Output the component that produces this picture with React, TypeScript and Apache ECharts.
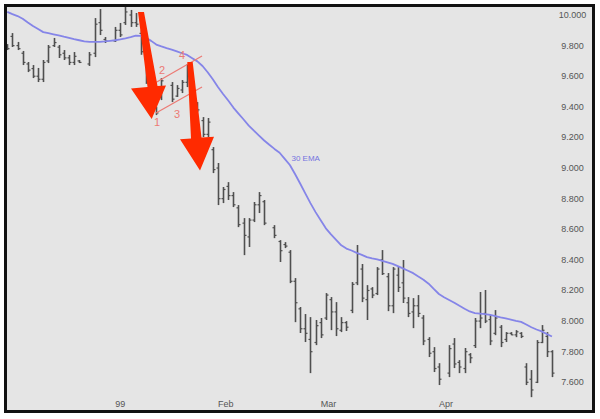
import React, { useEffect, useRef } from 'react';
import * as echarts from 'echarts';

// Trading-day slots (weekdays) shown on the category axis
const START_DATE = '1998-12-04';
const END_DATE = '1999-05-03';

// Month tick labels: slot date -> text
const monthLabels: Record<string, string> = {
  '1999-01-04': '99',
  '1999-02-01': 'Feb',
  '1999-03-01': 'Mar',
  '1999-04-01': 'Apr',
};

// Price axis
const yMin = 7.6;
const yMax = 10.0;
const yStep = 0.2;

// OHLC values per slot (null = no trading / holiday)
const highs: (number | null)[] = [
  9.810, 9.882, 9.824, 9.765, 9.693, 9.673, 9.654, 9.706, 9.804, 9.850,
  9.804, 9.771, 9.739, 9.758, 9.706, null, 9.758, 9.980, 10.039, 9.856,
  null, 9.922, 9.948, 10.052, 10.033, 10.013, 9.90, 9.76, 9.58, 9.401,
  9.588, null, 9.562, 9.542, 9.575, 9.680, 9.60, 9.431, 9.333, 9.327,
  9.137, 9.033, 8.876, 8.908, 8.843, 8.758, 8.673, 8.673, 8.778, 8.843,
  8.791, null, 8.627, 8.529, 8.516, 8.464, 8.281, 8.092, 8.046, 8.026,
  8.007, 8.020, 8.183, 8.157, 8.124, 8.026, 8.000, 8.255, 8.497, 8.373,
  8.235, 8.222, 8.353, 8.464, 8.314, 8.353, 8.353, 8.399, 8.157, 8.150,
  8.170, 8.039, 7.895, 7.830, 7.725, null, 7.843, 7.889, 7.745, 7.824,
  7.791, 8.020, 8.190, 8.203, 8.039, 8.072, 7.974, 7.928, 7.928, 7.941,
  7.928, 7.725, 7.680, 7.876, 7.974, 7.928, 7.810,
];
const lows: (number | null)[] = [
  9.771, 9.791, 9.771, 9.673, 9.627, 9.588, 9.562, 9.562, 9.686, 9.791,
  9.719, 9.706, 9.673, 9.673, 9.686, null, 9.667, 9.725, 9.869, 9.817,
  null, 9.824, 9.856, 9.935, 9.922, 9.922, 9.74, 9.55, 9.40, 9.346,
  9.444, null, 9.431, 9.464, 9.490, 9.529, 9.45, 9.366, 9.203, 9.203,
  8.967, 8.758, 8.771, 8.791, 8.745, 8.614, 8.431, 8.484, 8.647, 8.706,
  8.627, null, 8.542, 8.386, 8.477, 8.248, 7.993, 7.922, 7.863, 7.660,
  7.843, 7.889, 8.007, 7.941, 7.902, 7.928, 7.935, 8.052, 8.235, 8.124,
  8.007, 8.150, 8.170, 8.301, 8.065, 8.052, 8.190, 8.118, 8.026, 7.954,
  8.026, 7.843, 7.765, 7.667, 7.582, null, 7.634, 7.693, 7.660, 7.660,
  7.725, 7.824, 7.954, 7.987, 7.843, 7.908, 7.830, 7.863, 7.908, 7.895,
  7.889, 7.582, 7.503, 7.595, 7.856, 7.765, 7.634,
];
const opens: (number | null)[] = [
  9.80, 9.86, 9.80, 9.75, 9.68, 9.65, 9.60, 9.58, 9.70, 9.80,
  9.79, 9.75, 9.72, 9.69, 9.70, null, 9.68, 9.75, 9.95, 9.84,
  null, 9.83, 9.90, 9.95, 10.00, 9.95, 9.88, 9.74, 9.56, 9.39,
  9.46, null, 9.54, 9.47, 9.51, 9.56, 9.58, 9.42, 9.31, 9.22,
  9.12, 9.00, 8.80, 8.88, 8.82, 8.74, 8.64, 8.55, 8.66, 8.76,
  8.78, null, 8.61, 8.52, 8.50, 8.45, 8.26, 8.08, 7.95, 7.88,
  7.86, 7.99, 8.02, 8.14, 8.06, 7.94, 7.99, 8.07, 8.25, 8.34,
  8.14, 8.21, 8.18, 8.40, 8.29, 8.10, 8.30, 8.25, 8.12, 8.06,
  8.10, 8.02, 7.88, 7.80, 7.70, null, 7.66, 7.85, 7.73, 7.69,
  7.78, 7.84, 8.00, 8.05, 8.01, 7.92, 7.96, 7.88, 7.92, 7.91,
  7.92, 7.70, 7.62, 7.60, 7.86, 7.90, 7.80,
];
const closes: (number | null)[] = [
  9.78, 9.80, 9.78, 9.69, 9.64, 9.60, 9.58, 9.69, 9.79, 9.82,
  9.74, 9.72, 9.69, 9.73, 9.69, null, 9.74, 9.94, 9.90, 9.83,
  null, 9.90, 9.87, 10.02, 9.95, 9.94, 9.76, 9.57, 9.42, 9.36,
  9.57, null, 9.45, 9.52, 9.56, 9.60, 9.46, 9.38, 9.22, 9.30,
  8.99, 8.80, 8.86, 8.82, 8.76, 8.63, 8.56, 8.66, 8.76, 8.82,
  8.64, null, 8.56, 8.46, 8.49, 8.26, 8.12, 7.95, 7.92, 7.80,
  7.97, 7.91, 8.17, 8.06, 7.95, 7.99, 7.96, 8.24, 8.44, 8.15,
  8.20, 8.17, 8.34, 8.31, 8.10, 8.34, 8.22, 8.15, 8.05, 8.10,
  8.05, 7.87, 7.79, 7.69, 7.62, null, 7.82, 7.72, 7.70, 7.80,
  7.76, 8.00, 8.02, 8.00, 7.87, 8.02, 7.86, 7.92, 7.91, 7.93,
  7.90, 7.60, 7.55, 7.86, 7.94, 7.80, 7.66,
];

// 30-day EMA
const ema30: number[] = [
  10.020, 10.006, 9.993, 9.975, 9.951, 9.928, 9.908, 9.888, 9.881, 9.874,
  9.867, 9.858, 9.850, 9.842, 9.835, 9.828, 9.824, 9.824, 9.824, 9.827,
  9.831, 9.835, 9.841, 9.848, 9.856, 9.865, 9.863, 9.852, 9.831, 9.807,
  9.795, 9.784, 9.774, 9.762, 9.750, 9.739, 9.718, 9.697, 9.667, 9.626,
  9.580, 9.530, 9.484, 9.441, 9.395, 9.356, 9.317, 9.277, 9.244, 9.212,
  9.180, 9.152, 9.125, 9.100, 9.060, 9.020, 8.961, 8.899, 8.835, 8.771,
  8.712, 8.659, 8.606, 8.567, 8.531, 8.495, 8.474, 8.461, 8.446, 8.433,
  8.418, 8.410, 8.403, 8.394, 8.384, 8.374, 8.359, 8.344, 8.329, 8.313,
  8.291, 8.270, 8.244, 8.210, 8.177, 8.156, 8.138, 8.120, 8.100, 8.081,
  8.063, 8.052, 8.049, 8.046, 8.041, 8.033, 8.025, 8.018, 8.010, 8.002,
  7.995, 7.978, 7.960, 7.945, 7.933, 7.916, 7.899,
];

const emaLabel = '30 EMA';
const patternLabels = ['1', '2', '3', '4'];

function weekdays(start: string, end: string): string[] {
  const out: string[] = [];
  const d = new Date(start + 'T00:00:00Z');
  const e = new Date(end + 'T00:00:00Z');
  while (d <= e) {
    const wd = d.getUTCDay();
    if (wd !== 0 && wd !== 6) out.push(d.toISOString().slice(0, 10));
    d.setUTCDate(d.getUTCDate() + 1);
  }
  return out;
}

const FONT = '"Liberation Sans", Arial, Helvetica, sans-serif';

export default function App() {
  const ref = useRef<HTMLDivElement>(null);

  useEffect(() => {
    if (!ref.current) return;
    const chart = echarts.init(ref.current, undefined, { renderer: 'svg' });
    const categories = weekdays(START_DATE, END_DATE);

    const barData: number[][] = [];
    highs.forEach((h, i) => {
      if (h == null || lows[i] == null) return;
      barData.push([i, opens[i] as number, h, lows[i] as number, closes[i] as number]);
    });

    const barColor = '#4f4f4f';
    const renderItem = (params: any, api: any) => {
      const idx = api.value(0);
      const pO = api.coord([idx, api.value(1)]);
      const pH = api.coord([idx, api.value(2)]);
      const pL = api.coord([idx, api.value(3)]);
      const pC = api.coord([idx, api.value(4)]);
      const x = Math.round(pH[0]) + 0.5;
      const st = { stroke: barColor, lineWidth: 1.6 };
      return {
        type: 'group',
        children: [
          { type: 'line', shape: { x1: x, y1: pH[1], x2: x, y2: pL[1] }, style: st },
          { type: 'line', shape: { x1: x - 2, y1: pO[1], x2: x, y2: pO[1] }, style: { stroke: barColor, lineWidth: 1.2 } },
          { type: 'line', shape: { x1: x, y1: pC[1], x2: x + 2, y2: pC[1] }, style: { stroke: barColor, lineWidth: 1.2 } },
        ],
      };
    };

    const red = '#ff2a00';
    const pink = '#ec7a74';

    chart.setOption({
      animation: false,
      backgroundColor: '#ffffff',
      grid: { left: 4.7, right: 45.5, top: 15, bottom: 36.7, containLabel: false },
      xAxis: {
        type: 'category',
        data: categories,
        boundaryGap: true,
        axisLine: { show: false },
        axisTick: { show: false },
        splitLine: { show: false },
        axisLabel: {
          interval: (_i: number, v: string) => v in monthLabels,
          formatter: (v: string) => monthLabels[v] ?? '',
          align: 'left',
          margin: 17,
          color: '#555555',
          fontSize: 9,
          fontFamily: FONT,
        },
      },
      yAxis: {
        type: 'value',
        position: 'right',
        min: yMin,
        max: yMax,
        interval: yStep,
        axisLine: { show: false },
        axisTick: { show: false },
        splitLine: { show: false },
        axisLabel: {
          formatter: (v: number) => v.toFixed(3),
          align: 'center',
          margin: 18,
          color: '#555555',
          fontSize: 9,
          fontFamily: FONT,
        },
      },
      series: [
        {
          type: 'custom',
          data: barData,
          encode: { x: 0, y: [1, 2, 3, 4] },
          renderItem,
          clip: false,
          silent: true,
          z: 3,
        },
        {
          type: 'line',
          data: ema30,
          symbol: 'none',
          clip: false,
          silent: true,
          lineStyle: { color: '#8585e8', width: 1.8 },
          z: 4,
        },
      ],
      graphic: [
        { type: 'rect', z: -10, silent: true, shape: { x: 5.5, y: 5.5, width: 588, height: 406 }, style: { fill: '#e5e5e5' } },
        // flag channel
        { type: 'line', z: 20, silent: true, shape: { x1: 155, y1: 83, x2: 202, y2: 56 }, style: { stroke: pink, lineWidth: 1.2 } },
        { type: 'line', z: 20, silent: true, shape: { x1: 156, y1: 113, x2: 202, y2: 87 }, style: { stroke: pink, lineWidth: 1.2 } },
        { type: 'text', z: 20, silent: true, style: { text: patternLabels[0], x: 157, y: 122, fill: pink, font: `11px ${FONT}`, align: 'center', verticalAlign: 'middle' } },
        { type: 'text', z: 20, silent: true, style: { text: patternLabels[1], x: 162, y: 69.5, fill: pink, font: `11px ${FONT}`, align: 'center', verticalAlign: 'middle' } },
        { type: 'text', z: 20, silent: true, style: { text: patternLabels[2], x: 177, y: 114, fill: pink, font: `11px ${FONT}`, align: 'center', verticalAlign: 'middle' } },
        { type: 'text', z: 20, silent: true, style: { text: patternLabels[3], x: 182, y: 55, fill: pink, font: `11px ${FONT}`, align: 'center', verticalAlign: 'middle' } },
        // arrows
        {
          type: 'polygon', z: 30, silent: true,
          shape: { points: [[138, 12], [144, 12], [157.5, 86], [166, 85.5], [151.7, 119], [131, 88.5], [147.5, 87]] },
          style: { fill: red },
        },
        {
          type: 'polygon', z: 30, silent: true,
          shape: { points: [[187.3, 62], [192.7, 62], [201.5, 137.5], [214, 136.7], [200, 170.5], [180, 139.3], [191, 138.5]] },
          style: { fill: red },
        },
        { type: 'text', z: 20, silent: true, style: { text: emaLabel, x: 291.5, y: 158.5, fill: '#7474e0', font: `8px ${FONT}`, align: 'left', verticalAlign: 'middle' } },
        // frame
        { type: 'rect', z: 40, silent: true, shape: { x: 5.5, y: 5.5, width: 588, height: 406 }, style: { fill: 'none', stroke: '#111111', lineWidth: 3 } },
      ],
    });

    return () => chart.dispose();
  }, []);

  return (
    <div
      ref={ref}
      style={{ position: 'fixed', left: 0, top: 0, width: 600, height: 419, background: '#ffffff' }}
    />
  );
}
